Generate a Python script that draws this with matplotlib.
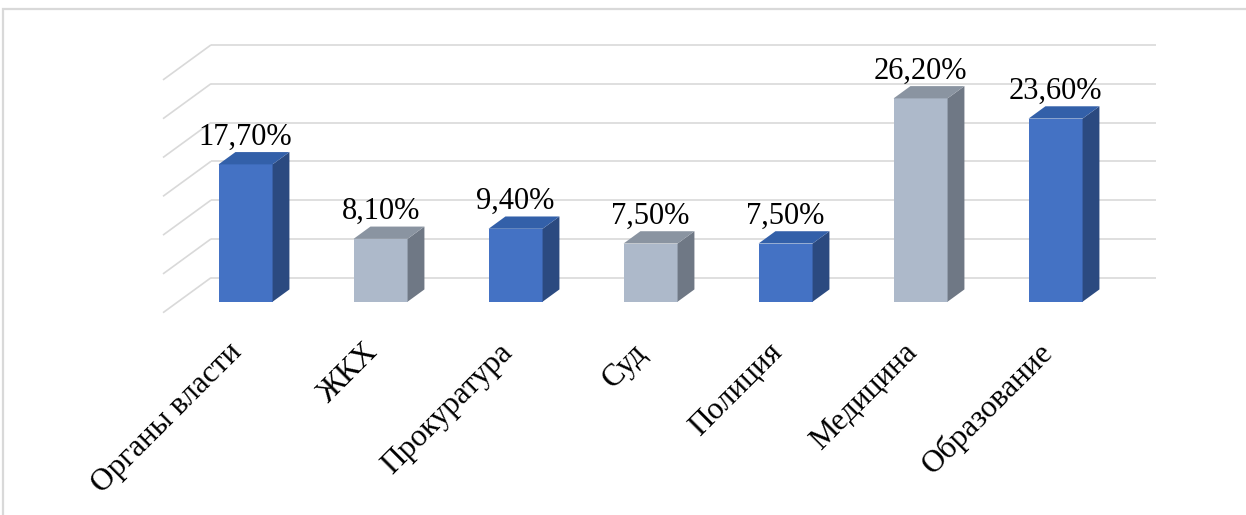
import matplotlib.pyplot as plt
from matplotlib.patches import Polygon, Rectangle

# data
categories = ['Органы власти', 'ЖКХ', 'Прокуратура', 'Суд', 'Полиция', 'Медицина', 'Образование']
values = [17.7, 8.1, 9.4, 7.5, 7.5, 26.2, 23.6]
labels = ['17,70%', '8,10%', '9,40%', '7,50%', '7,50%', '26,20%', '23,60%']
grid_levels = [0, 5, 10, 15, 20, 25, 30]

# oblique projection of the depth axis (z: 0 = front of floor, 1 = back wall)
KX = 48 / 135
KY = 35 / 7.76
Z0, Z1 = 0.314, 0.665
HALF_W = 0.2


def proj(x, y, z):
    return (x + KX * z, y + KY * z)


blue = {'front': '#4472C4', 'top': '#3360A9', 'side': '#2B4A80'}
grey = {'front': '#ADB9CA', 'top': '#8A94A1', 'side': '#6F7885'}
colors = [blue, grey, blue, grey, blue, grey, blue]

plt.rcParams['font.family'] = ['Liberation Serif', 'DejaVu Serif']

fig = plt.figure(figsize=(12.46, 5.15), dpi=100)
ax = fig.add_axes([0, 0, 1, 1])
ax.set_xlim(-0.5 - 163 / 135, -0.5 + 1083 / 135)
ax.set_ylim((312.7 - 515) / 7.76, 312.7 / 7.76)
ax.axis('off')

# outer frame
fig.patches.append(Rectangle((3 / 1246, -0.05), 1.1, 1 - 9 / 515 + 0.05,
                             transform=fig.transFigure, fill=False,
                             edgecolor='#D9D9D9', linewidth=1.6))

# back wall and side wall gridlines
n = len(categories)
for v in grid_levels:
    x0, y0 = proj(-0.5, v, 1)
    x1, y1 = proj(n - 0.5, v, 1)
    ax.plot([x0, x1], [y0, y1], color='#D9D9D9', lw=1.2, zorder=1,
            solid_capstyle='butt')
    xa, ya = proj(-0.5, v, 0)
    ax.plot([xa, x0], [ya, y0], color='#D9D9D9', lw=1.2, zorder=1,
            solid_capstyle='butt')

# bars
for i, (v, c) in enumerate(zip(values, colors)):
    xl, xr = i - HALF_W, i + HALF_W
    front = [proj(xl, 0, Z0), proj(xr, 0, Z0), proj(xr, v, Z0), proj(xl, v, Z0)]
    side = [proj(xr, 0, Z0), proj(xr, 0, Z1), proj(xr, v, Z1), proj(xr, v, Z0)]
    top = [proj(xl, v, Z0), proj(xr, v, Z0), proj(xr, v, Z1), proj(xl, v, Z1)]
    ax.add_patch(Polygon(front, closed=True, facecolor=c['front'], edgecolor='none', zorder=3))
    ax.add_patch(Polygon(side, closed=True, facecolor=c['side'], edgecolor='none', zorder=3))
    ax.add_patch(Polygon(top, closed=True, facecolor=c['top'], edgecolor='none', zorder=3))

    ax.annotate(labels[i], proj(i, v, Z0), xytext=(0, 14.4), textcoords='offset points',
                ha='center', va='baseline', fontsize=22, color='black', zorder=4)

    ax.annotate(categories[i], proj(i, 0, Z0), xytext=(-13, -26), textcoords='offset points',
                ha='right', va='top', rotation=45, rotation_mode='anchor',
                fontsize=22.5, color='black')

fig.savefig('out.png', dpi=100)
